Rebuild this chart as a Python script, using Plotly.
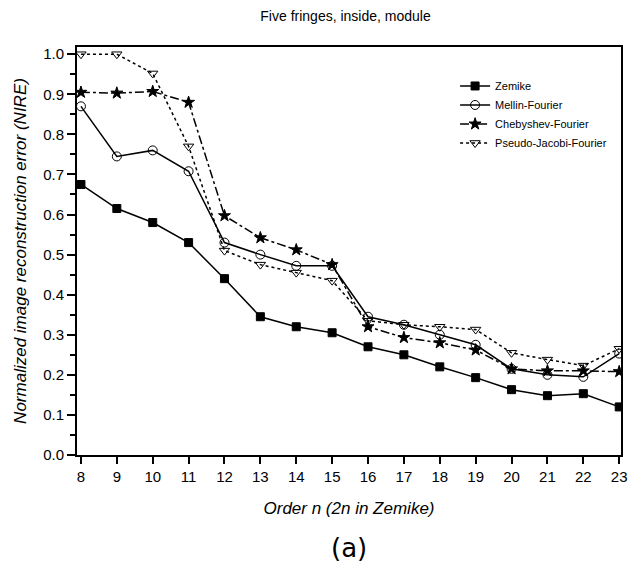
import plotly.graph_objects as go

orders = list(range(8, 24))
zernike = [0.675, 0.615, 0.58, 0.53, 0.44, 0.345, 0.32, 0.305, 0.27, 0.25, 0.22, 0.193, 0.163, 0.148, 0.153, 0.12]
mellin = [0.87, 0.745, 0.76, 0.708, 0.53, 0.50, 0.472, 0.472, 0.345, 0.325, 0.30, 0.275, 0.215, 0.20, 0.195, 0.253]
chebyshev = [0.905, 0.903, 0.907, 0.88, 0.597, 0.542, 0.512, 0.475, 0.32, 0.293, 0.28, 0.262, 0.215, 0.21, 0.21, 0.208]
pjacobi = [1.0, 1.0, 0.952, 0.77, 0.51, 0.475, 0.455, 0.435, 0.335, 0.325, 0.32, 0.313, 0.255, 0.238, 0.223, 0.265]

series = [
    ("Zemike", zernike, "square", "solid", 8),
    ("Mellin-Fourier", mellin, "circle-open", "solid", 9),
    ("Chebyshev-Fourier", chebyshev, "star", "dashdot", 9),
    ("Pseudo-Jacobi-Fourier", pjacobi, "triangle-down-open", "dot", 9),
]

fig = go.Figure()
for name, vals, sym, dash, sz in series:
    fig.add_trace(go.Scatter(
        x=orders, y=vals, name=name, mode="lines+markers",
        line=dict(color="black", width=1.5, dash=dash),
        marker=dict(symbol=sym, size=sz, color="black",
                    line=dict(color="black", width=1)),
    ))

fig.update_layout(
    width=634, height=566,
    margin=dict(l=77, r=6, t=47, b=111),
    paper_bgcolor="white", plot_bgcolor="white",
    font=dict(family="Liberation Sans, Arial, sans-serif", color="black"),
    title=dict(text="Five fringes, inside, module", x=0.545, xanchor="center",
               y=0.972, yanchor="middle", font=dict(size=14)),
    showlegend=True,
    legend=dict(x=0.695, y=0.94, xanchor="left", yanchor="top",
                bgcolor="rgba(0,0,0,0)",
                font=dict(size=11, family="Liberation Sans Narrow, Liberation Sans, sans-serif"),
                tracegroupgap=0, itemwidth=30),
    xaxis=dict(range=[7.89, 23.05], tickmode="array", tickvals=orders,
               ticks="outside", ticklen=7, tickwidth=1.5, tickcolor="black",
               showline=True, linewidth=2, linecolor="black", mirror=True,
               showgrid=False, zeroline=False, tickfont=dict(size=15),
               title=dict(text="<i>Order n (2n in Zemike)</i>", font=dict(size=17), standoff=18)),
    yaxis=dict(range=[0, 1.018], tickmode="array",
               tickvals=[0, 0.1, 0.2, 0.3, 0.4, 0.5, 0.6, 0.7, 0.8, 0.9, 1.0],
               ticktext=["0.0", "0.1", "0.2", "0.3", "0.4", "0.5", "0.6", "0.7", "0.8", "0.9", "1.0"],
               ticks="outside", ticklen=8, tickwidth=1.5, tickcolor="black",
               minor=dict(dtick=0.05, tick0=0, ticks="outside", ticklen=5, tickwidth=1.5, tickcolor="black"),
               showline=True, linewidth=2, linecolor="black", mirror=True,
               showgrid=False, zeroline=False, tickfont=dict(size=15),
               title=dict(text="<i>Normalized image reconstruction error (NIRE)</i>", font=dict(size=17), standoff=12)),
    annotations=[dict(text="(a)", x=0.5, xref="paper", y=-0.228, yref="paper",
                      xanchor="center", yanchor="middle", showarrow=False,
                      font=dict(size=26, family="DejaVu Sans, sans-serif"))],
)

fig.write_html("out.html")
